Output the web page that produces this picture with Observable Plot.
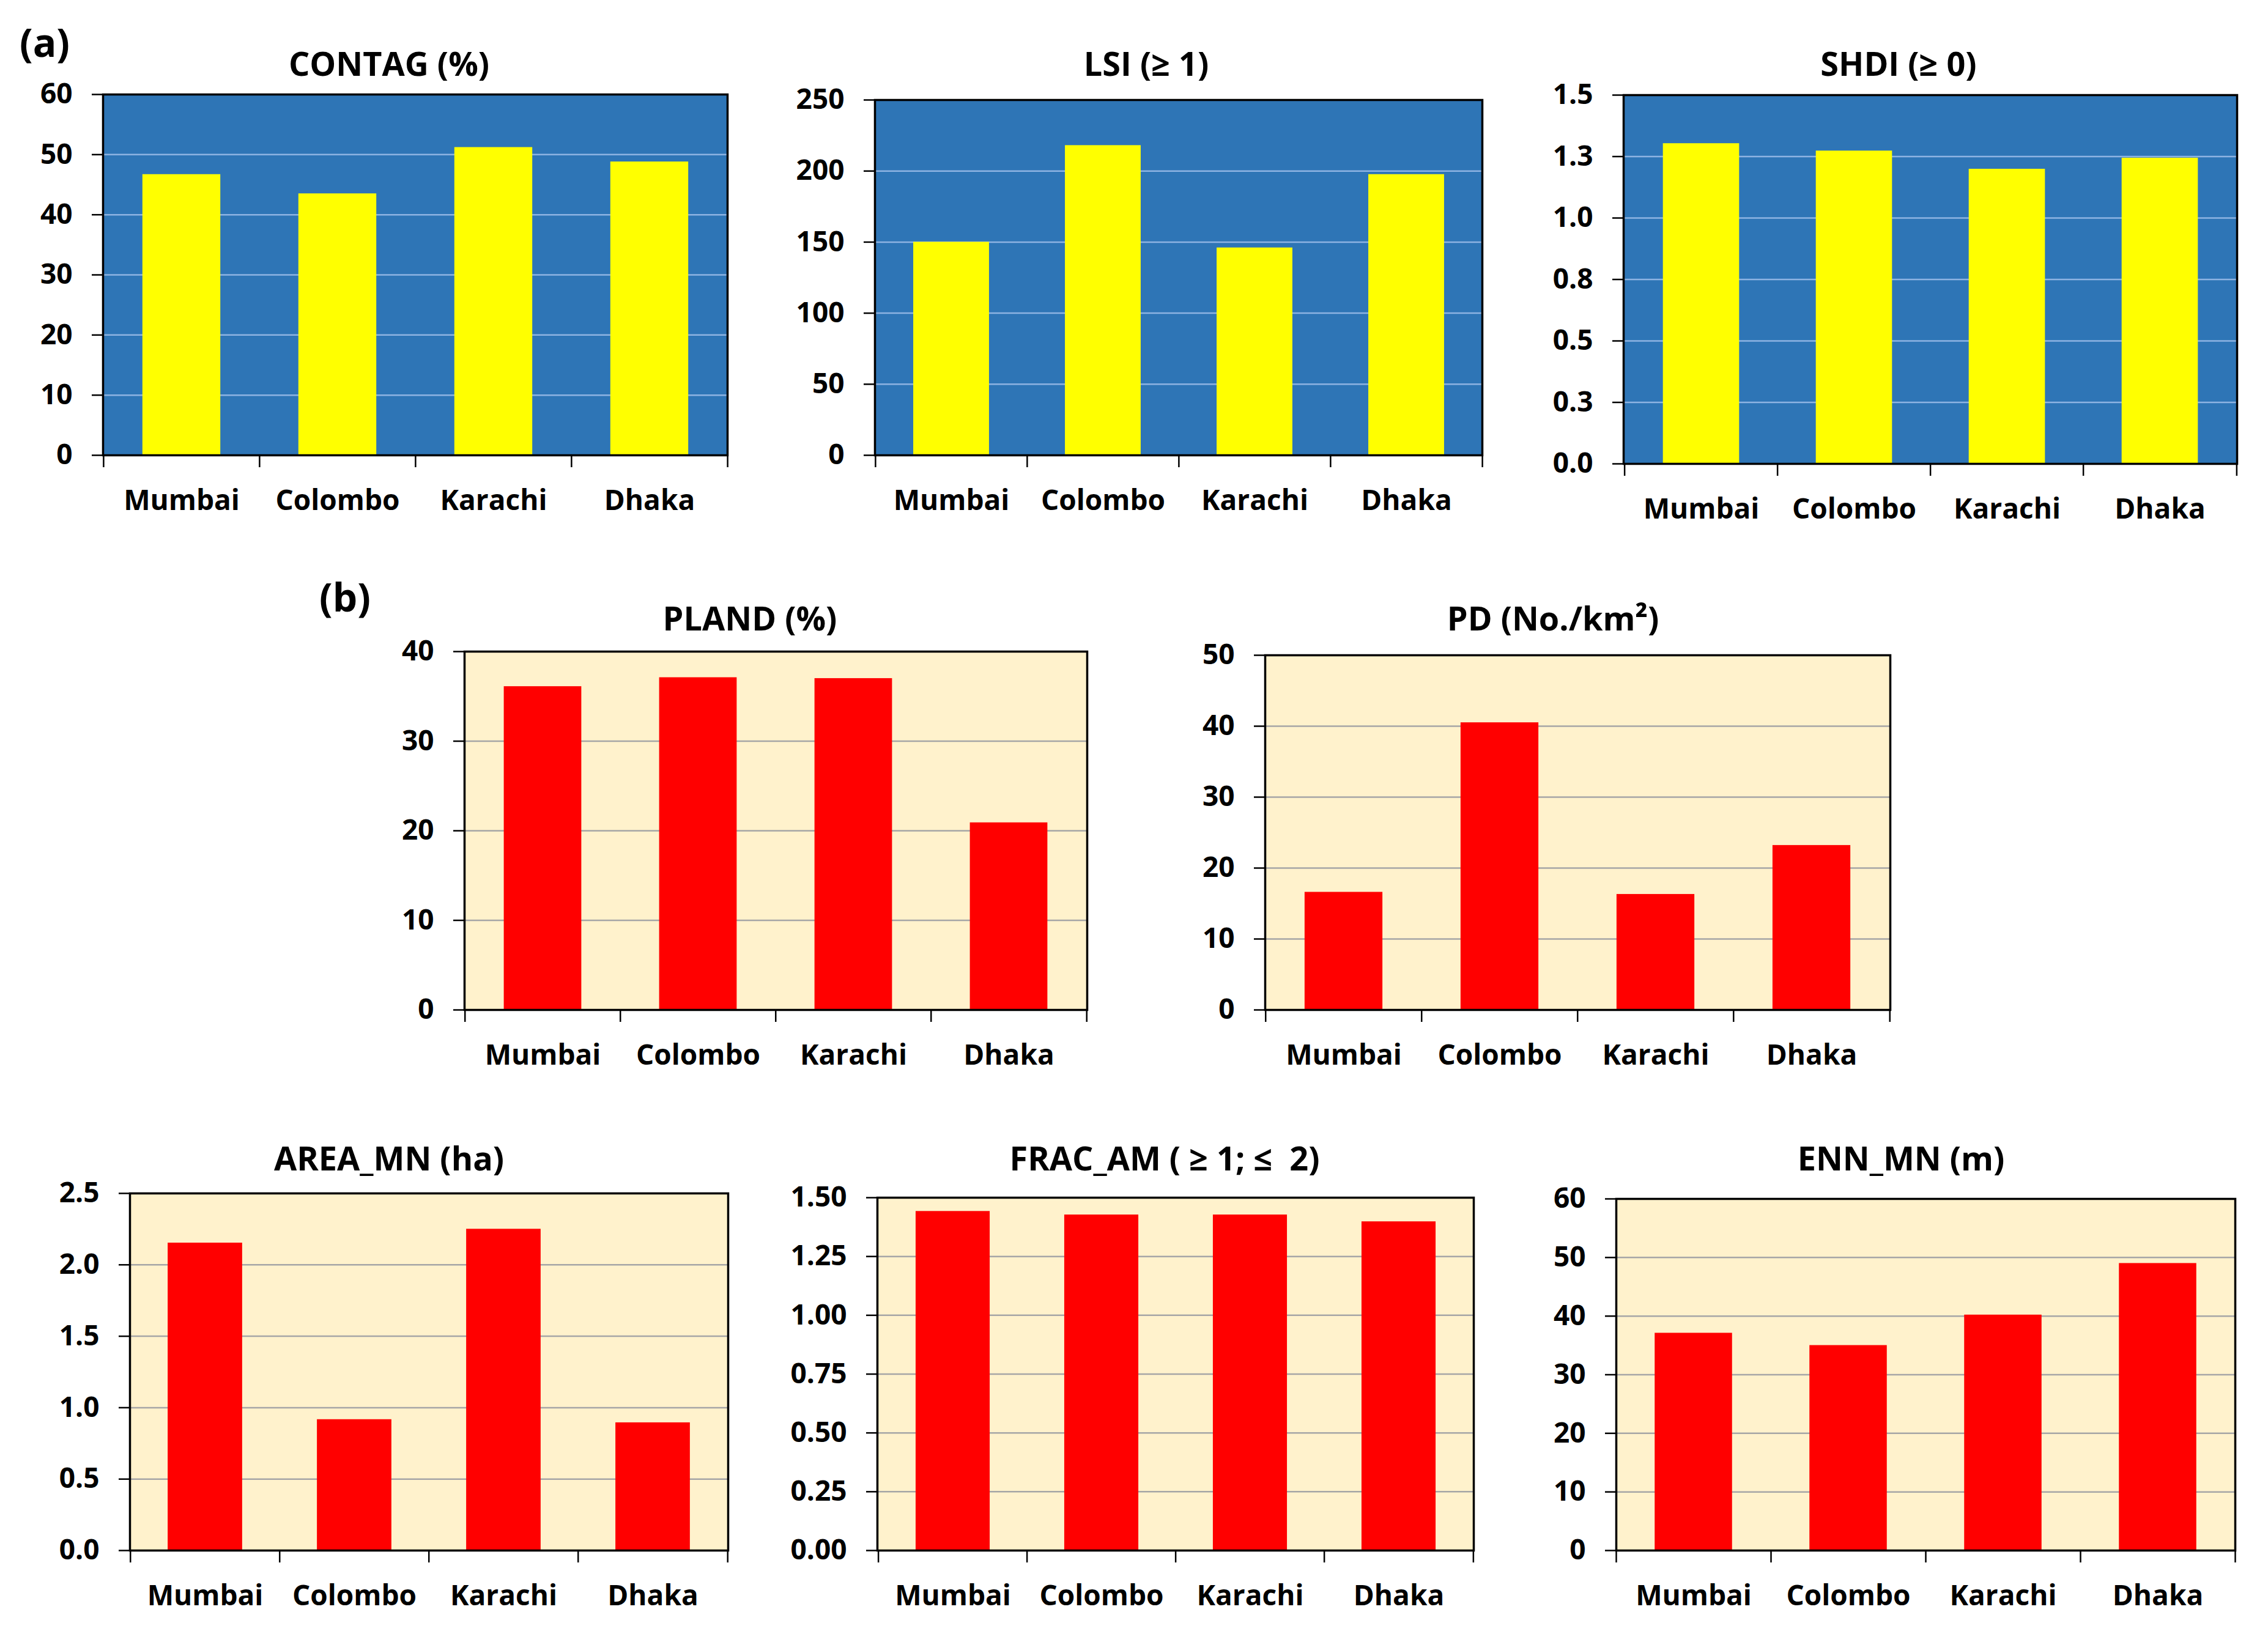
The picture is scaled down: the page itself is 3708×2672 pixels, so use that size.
<!DOCTYPE html>
<html>
<head>
<meta charset="utf-8">
<script src="https://cdn.jsdelivr.net/npm/d3@7"></script>
<script src="https://cdn.jsdelivr.net/npm/@observablehq/plot@0.6"></script>
<style>
  html, body { margin: 0; padding: 0; background: #fff; }
  #page { position: relative; width: 3708px; height: 2672px; overflow: hidden; background: #fff; font-family: "Open Sans", sans-serif; }
  .panel { position: absolute; }
  .title { position: absolute; font-family: "Open Sans", sans-serif; font-weight: 700; font-size: 54px; line-height: 1; white-space: pre; transform: translateX(-50%); color: #000; }
  .tag { position: absolute; font-family: "Open Sans", sans-serif; font-weight: 700; font-size: 64px; line-height: 1; color: #000; }
</style>
</head>
<body>
<div id="page"></div>
<script>
// ---------- data ----------
const cities = ["Mumbai", "Colombo", "Karachi", "Dhaka"];

const contag = [46.7, 43.5, 51.2, 48.8];
const lsi    = [150, 218, 146, 197.6];
const shdi   = [1.303, 1.273, 1.199, 1.244];
const pland  = [36.1, 37.1, 37.0, 20.9];
const pd     = [16.6, 40.5, 16.3, 23.2];
const areaMn = [2.153, 0.917, 2.25, 0.895];
const fracAm = [1.442, 1.427, 1.427, 1.398];
const ennMn  = [37.1, 35.0, 40.2, 49.0];

const contagTicks = [0, 10, 20, 30, 40, 50, 60];
const lsiTicks    = [0, 50, 100, 150, 200, 250];
const shdiTicks   = [0, 0.25, 0.5, 0.75, 1.0, 1.25, 1.5];
const plandTicks  = [0, 10, 20, 30, 40];
const pdTicks     = [0, 10, 20, 30, 40, 50];
const areaTicks   = [0, 0.5, 1.0, 1.5, 2.0, 2.5];
const fracTicks   = [0, 0.25, 0.5, 0.75, 1.0, 1.25, 1.5];
const ennTicks    = [0, 10, 20, 30, 40, 50, 60];

const titles = ["CONTAG (%)", "LSI (\u2265 1)", "SHDI (\u2265 0)", "PLAND (%)", "PD (No./km\u00B2)", "AREA_MN (ha)", "FRAC_AM ( \u2265 1; \u2264  2)", "ENN_MN (m)"];

// ---------- styles / layout ----------
const BLUE = {bg: "#2E75B6", bar: "#FFFF00", grid: "#8DB3E2"};
const TAN  = {bg: "#FFF2CC", bar: "#FF0000", grid: "#A6A6A6"};

const panels = [
  {values: contag, ticks: contagTicks, fmt: d3.format("d"),   theme: BLUE, frame: [168, 154, 1189, 744],  title: titles[0], tx: 636,  ty: 105},
  {values: lsi,    ticks: lsiTicks,    fmt: d3.format("d"),   theme: BLUE, frame: [1430, 163, 2423, 744], title: titles[1], tx: 1874, ty: 105},
  {values: shdi,   ticks: shdiTicks,   fmt: d3.format(".1f"), theme: BLUE, frame: [2654, 155, 3657, 758], title: titles[2], tx: 3104, ty: 105},
  {values: pland,  ticks: plandTicks,  fmt: d3.format("d"),   theme: TAN,  frame: [759, 1065, 1777, 1651], title: titles[3], tx: 1226, ty: 1012},
  {values: pd,     ticks: pdTicks,     fmt: d3.format("d"),   theme: TAN,  frame: [2068, 1071, 3090, 1651], title: titles[4], tx: 2539, ty: 1012},
  {values: areaMn, ticks: areaTicks,   fmt: d3.format(".1f"), theme: TAN,  frame: [212, 1951, 1190, 2535], title: titles[5], tx: 636,  ty: 1895},
  {values: fracAm, ticks: fracTicks,   fmt: d3.format(".2f"), theme: TAN,  frame: [1434, 1958, 2409, 2535], title: titles[6], tx: 1904, ty: 1895},
  {values: ennMn,  ticks: ennTicks,    fmt: d3.format("d"),   theme: TAN,  frame: [2642, 1960, 3654, 2535], title: titles[7], tx: 3108, ty: 1895}
];

const page = document.getElementById("page");
const FS = 46;
const ML = 170, MR = 14, MT = 14, MB = 130;

function addText(cls, text, left, capCenterY, size) {
  const el = document.createElement("div");
  el.className = cls;
  el.textContent = text;
  el.style.left = left + "px";
  el.style.top = (capCenterY - 0.531 * size) + "px";
  page.appendChild(el);
}

for (const p of panels) {
  const [x0, y0, x1, y1] = p.frame;
  const W = x1 - x0, H = y1 - y0;
  const step = W / cities.length;
  const data = cities.map((c, i) => ({city: c, value: p.values[i]}));
  const yMax = p.ticks[p.ticks.length - 1];

  const chart = Plot.plot({
    width: W + ML + MR,
    height: H + MT + MB,
    marginLeft: ML, marginRight: MR, marginTop: MT, marginBottom: MB,
    style: {fontFamily: "Open Sans", fontWeight: 700, fontSize: FS + "px", color: "#000", background: "transparent", overflow: "visible"},
    x: {domain: cities, padding: 0, label: null},
    y: {domain: [0, yMax], label: null},
    marks: [
      Plot.frame({fill: p.theme.bg}),
      Plot.gridY({ticks: p.ticks.slice(1, -1), stroke: p.theme.grid, strokeOpacity: 1, strokeWidth: 2.5}),
      Plot.barY(data, {x: "city", y: "value", fill: p.theme.bar, insetLeft: step * 0.25, insetRight: step * 0.25}),
      Plot.frame({stroke: "#000", strokeWidth: 3.5}),
      Plot.axisY({ticks: p.ticks, tickFormat: p.fmt, tickSize: 18, tickPadding: 32, strokeWidth: 2.5, fontSize: FS, fontWeight: 700, label: null}),
      Plot.axisX({tickSize: 20, dx: -step / 2, tickFormat: () => "", strokeWidth: 2.5, label: null}),
      Plot.axisX({ticks: [cities[cities.length - 1]], tickSize: 20, dx: step / 2, tickFormat: () => "", strokeWidth: 2.5, label: null}),
      Plot.axisX({tickSize: 0, tickPadding: 57, fontSize: FS, fontWeight: 700, label: null})
    ]
  });

  const holder = document.createElement("div");
  holder.className = "panel";
  holder.style.left = (x0 - ML) + "px";
  holder.style.top = (y0 - MT) + "px";
  holder.appendChild(chart);
  page.appendChild(holder);

  addText("title", p.title, p.tx, p.ty, 54);
}

// panel tags
const tagA = document.createElement("div");
tagA.className = "tag"; tagA.textContent = "(a)";
tagA.style.left = "32px"; tagA.style.top = (71 - 0.531 * 64) + "px";
page.appendChild(tagA);
const tagB = document.createElement("div");
tagB.className = "tag"; tagB.textContent = "(b)";
tagB.style.left = "522px"; tagB.style.top = (978 - 0.531 * 64) + "px";
page.appendChild(tagB);
</script>
</body>
</html>
